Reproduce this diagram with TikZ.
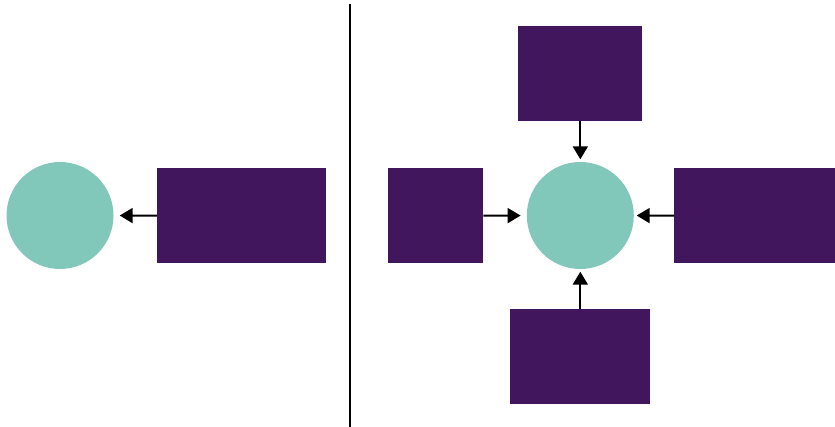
\documentclass[tikz,border=0pt]{standalone}
\usetikzlibrary{arrows.meta}
\definecolor{boxpurple}{HTML}{41165C}
\definecolor{circteal}{HTML}{82C8BA}
\begin{document}
\begin{tikzpicture}[x=1pt,y=-1pt,
  box/.style={fill=boxpurple,draw=none,inner sep=0pt,minimum height=95pt,anchor=north west},
  circ/.style={circle,fill=circteal,draw=none,inner sep=0pt,minimum size=107pt},
  arr/.style={line width=2pt,-{Triangle[width=15pt,length=13pt]}}]
\useasboundingbox (0,0) rectangle (835,427);
% left part
\node[circ] (c1) at (60,215.5) {};
\node[box,minimum width=169pt] (b1) at (157,168) {};
\draw[arr,shorten >=6pt] (b1.west) -- (c1.east);
% divider
\coordinate (d1) at (350,4);
\coordinate (d2) at (350,427);
\draw[line width=2pt] (d1) -- (d2);
% right part
\node[circ] (c2) at (580.3,215.5) {};
\node[box,minimum width=124pt] (bt) at (518,26) {};
\node[box,minimum width=95pt] (bl) at (388,168) {};
\node[box,minimum width=161pt] (br) at (674,168) {};
\node[box,minimum width=140pt] (bb) at (510,309) {};
\draw[arr,shorten >=2.5pt] (bt.south -| c2) -- (c2.north);
\draw[arr,shorten >=6pt] (bl.east) -- (c2.west);
\draw[arr,shorten >=2.7pt] (br.west) -- (c2.east);
\draw[arr,shorten >=2.5pt] (bb.north -| c2) -- (c2.south);
\end{tikzpicture}
\end{document}
